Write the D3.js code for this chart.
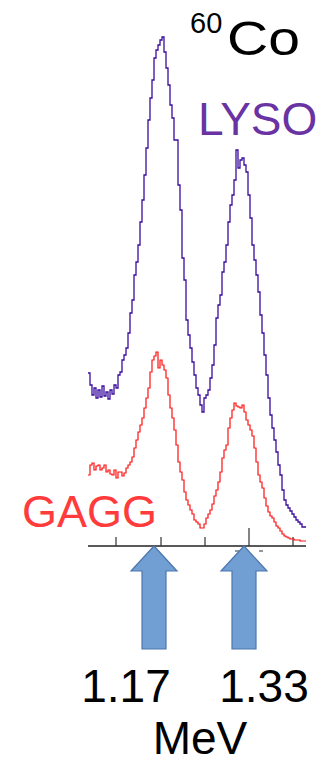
<!DOCTYPE html>
<html><head><meta charset="utf-8">
<script src="https://cdn.jsdelivr.net/npm/d3@7"></script>
<style>html,body{margin:0;padding:0;background:#fff;overflow:hidden}svg{display:block}</style>
</head><body>
<script>
// ---- data (counts per channel, 2 px bins) ----
const lysoCounts = [173,161,151,158,148,156,149,160,150,154,147,156,152,161,158,171,174,186,191,198,213,233,246,271,284,301,324,346,371,398,426,448,466,488,496,501,506,509,494,478,461,441,428,406,406,361,336,288,266,226,211,198,184,171,158,151,141,134,148,151,156,168,181,201,228,241,251,274,284,301,324,341,351,366,396,378,386,388,381,374,351,328,301,286,271,254,231,213,191,171,148,131,118,106,94,81,71,56,46,41,38,35,32,29,26,24,22,19,19];
const gaggCounts = [71,81,83,76,80,81,76,78,81,74,76,72,71,76,68,74,74,70,73,78,81,84,89,98,106,114,121,128,138,148,158,174,186,190,194,178,186,181,176,168,151,138,128,116,101,84,74,66,54,46,41,36,32,26,24,22,18,18,22,28,32,36,42,50,56,64,74,88,96,101,118,128,136,143,140,139,138,141,134,126,121,116,110,98,84,71,64,58,48,40,34,30,28,24,20,18,15,12,10,9,8,7,7,6,6,6,5,5,5];
const seriesNames = ["LYSO", "GAGG"];
const tickChannels = [14, 36.5, 58.5, 80.5, 102.5];
const majorTick = 80.5;
const peakEnergies = [1.17, 1.33];       // MeV
const peakLabels = ["1.17", "1.33"];
const calibEnergy = [1.17, 1.33];        // MeV
const calibChannel = [33, 78];           // channel of each energy
const unitLabel = "MeV";
const isotopeMass = "60", isotopeName = "Co";

const W = 332, H = 759;
const svg = d3.select("body").append("svg").attr("width", W).attr("height", H);

const nCh = lysoCounts.length;
const x = d3.scaleLinear().domain([0, nCh]).range([88, 306]);
const y = d3.scaleLinear().domain([0, 510]).range([546, 36]);
const eToCh = d3.scaleLinear().domain(calibEnergy).range(calibChannel);

const line = d3.line().x((d, i) => x(i)).y(d => y(d)).curve(d3.curveStepAfter);
const ext = a => a.concat([a[a.length - 1]]);

// axis
const axisY = y(0);
svg.append("line").attr("x1", x(0)).attr("x2", x(nCh)).attr("y1", axisY).attr("y2", axisY)
  .attr("stroke", "#222").attr("stroke-width", 1.4);
svg.selectAll(".tk").data(tickChannels).enter().append("line")
  .attr("x1", d => x(d)).attr("x2", d => x(d))
  .attr("y1", axisY).attr("y2", d => d === majorTick ? axisY - 18 : axisY - 9)
  .attr("stroke", "#333").attr("stroke-width", 1.2);
// small dashes below axis near second peak
svg.selectAll(".dash").data([74.5, 86.5]).enter().append("line")
  .attr("x1", d => x(d) - 2).attr("x2", d => x(d) + 2)
  .attr("y1", axisY + 5).attr("y2", axisY + 5).attr("stroke", "#333").attr("stroke-width", 1);

// spectra
svg.append("path").datum(ext(gaggCounts)).attr("d", line)
  .attr("fill", "none").attr("stroke", "#ff1010").attr("stroke-width", 1.2);
svg.append("path").datum(ext(lysoCounts)).attr("d", line)
  .attr("fill", "none").attr("stroke", "#3a0c9e").attr("stroke-width", 1.3);

// arrows
const arrowPath = cx => {
  const tip = axisY, headB = axisY + 25, bot = axisY + 103, hw = 23, sw = 12;
  return `M${cx},${tip} L${cx + hw},${headB} L${cx + sw},${headB} L${cx + sw},${bot} L${cx - sw},${bot} L${cx - sw},${headB} L${cx - hw},${headB} Z`;
};
svg.selectAll(".arrow").data(peakEnergies).enter().append("path")
  .attr("d", e => arrowPath(x(eToCh(e))))
  .attr("fill", "#729fd3").attr("stroke", "#4c77ad").attr("stroke-width", 1.2);

// labels
const font = "'Liberation Sans', Arial, sans-serif";
svg.selectAll(".pl").data(peakLabels).enter().append("text")
  .attr("x", (d, i) => i === 0 ? 126 : 264).attr("y", 702)
  .attr("text-anchor", "middle").attr("font-family", font).attr("font-size", 46)
  .attr("fill", "#000").text(d => d);
svg.append("text").attr("x", 200).attr("y", 754).attr("text-anchor", "middle")
  .attr("font-family", font).attr("font-size", 46).attr("fill", "#000").text(unitLabel);

svg.append("text").attr("x", 198).attr("y", 135).attr("font-family", font).attr("font-size", 46)
  .attr("fill", "#6a33a3").text(seriesNames[0]);
svg.append("text").attr("x", 22).attr("y", 527).attr("font-family", font).attr("font-size", 45)
  .attr("fill", "#ff3b3b").text(seriesNames[1]);

svg.append("text").attr("x", 190).attr("y", 33).attr("font-family", font).attr("font-size", 29)
  .attr("fill", "#000").text(isotopeMass);
svg.append("text").attr("x", 227).attr("y", 55).attr("font-family", font).attr("font-size", 48)
  .attr("textLength", 73).attr("lengthAdjust", "spacingAndGlyphs")
  .attr("fill", "#000").text(isotopeName);
</script>
</body></html>
